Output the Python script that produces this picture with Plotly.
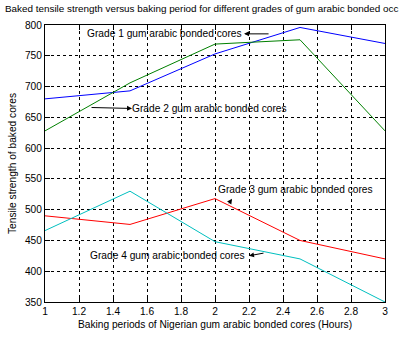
import plotly.graph_objects as go

hours = [1, 1.5, 2, 2.5, 3]
grade1 = [680, 693, 753, 796, 770]
grade2 = [628, 706, 769, 776, 628]
grade3 = [490, 476, 518, 450, 420]
grade4 = [466, 530, 448, 420, 350]

series = [
    ("Grade 1", grade1, "#0000FF"),
    ("Grade 2", grade2, "#008000"),
    ("Grade 3", grade3, "#FF0000"),
    ("Grade 4", grade4, "#00BFBF"),
]

FONT = "Liberation Sans, Arial, Helvetica, sans-serif"

fig = go.Figure()
for name, vals, col in series:
    fig.add_trace(go.Scatter(x=hours, y=vals, mode="lines", name=name,
                             line=dict(color=col, width=1)))

labels = [
    # text, text x, text y, head x, head y, ax, ay
    ("Grade 1 gum arabic bonded cores", 1.70, 787, 2.171, 785.6, 26, 0),
    ("Grade 2 gum arabic bonded cores", 1.965, 664, 1.512, 664.4, -42, -1),
    ("Grade 3 gum arabic bonded cores", 2.476, 533.5, 2.10, 517.6, -4, 6),
    ("Grade 4 gum arabic bonded cores", 1.718, 425, 2.20, 425, 16, -3),
]
for txt, tx, ty, hx, hy, ax, ay in labels:
    fig.add_annotation(x=tx, y=ty, text=txt, showarrow=False,
                       font=dict(family=FONT, size=10.2, color="black"))
    fig.add_annotation(x=hx, y=hy, text="", showarrow=True, ax=ax, ay=ay,
                       arrowhead=2, arrowsize=1, arrowwidth=1, arrowcolor="black")

axis_common = dict(showgrid=True, gridcolor="black", griddash="dot", gridwidth=1,
                   showline=True, linecolor="black", linewidth=1, mirror="ticks",
                   ticks="inside", ticklen=5, tickcolor="black", zeroline=False,
                   tickfont=dict(family=FONT, size=10.2, color="black"))

fig.update_xaxes(range=[1, 3], tick0=1, dtick=0.2, tickformat="~g",
                 title=dict(text="Baking periods of Nigerian gum arabic bonded cores (Hours)",
                            font=dict(family=FONT, size=10.2, color="black"), standoff=4),
                 **axis_common)
fig.update_yaxes(range=[350, 800], tick0=350, dtick=50,
                 title=dict(text="Tensile strength of baked cores",
                            font=dict(family=FONT, size=10.2, color="black"), standoff=6),
                 **axis_common)

fig.update_layout(
    width=407, height=340,
    margin=dict(l=45, r=22, t=25, b=33),
    paper_bgcolor="white", plot_bgcolor="white",
    showlegend=False,
    title=dict(text="Baked tensile strength versus baking period for different grades of gum arabic bonded occ",
               x=0, xref="container", xanchor="left", y=1, yref="container", yanchor="top",
               pad=dict(l=5, t=5),
               font=dict(family=FONT, size=9.9, color="black")),
)

fig.write_html("out.html")
